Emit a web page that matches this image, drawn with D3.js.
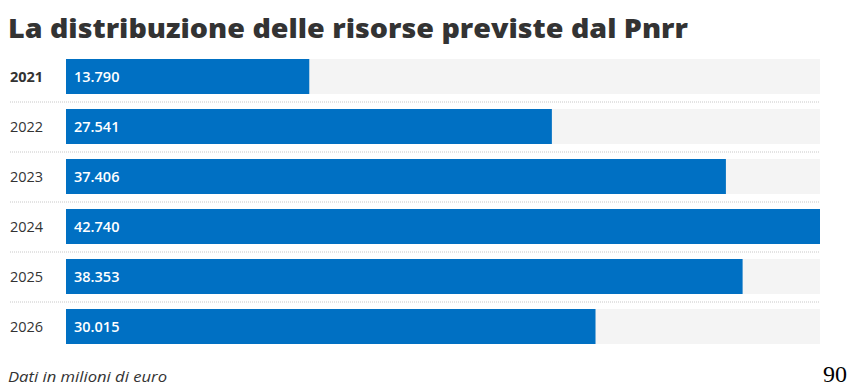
<!DOCTYPE html>
<html>
<head>
<meta charset="utf-8">
<title>La distribuzione delle risorse previste dal Pnrr</title>
<script src="https://d3js.org/d3.v7.min.js"></script>
<style>
  body { margin: 0; background: #fff; }
  svg { display: block; }
</style>
</head>
<body>
<svg id="chart" width="849" height="386"></svg>
<script>
  // data (milioni di euro)
  let years = ['2021', '2022', '2023', '2024', '2025', '2026'];
  let values = [13790, 27541, 37406, 42740, 38353, 30015];
  let labels = ['13.790', '27.541', '37.406', '42.740', '38.353', '30.015'];

  let svg = d3.select('#chart');

  let margin = { top: 59, left: 66, right: 29 };
  let plotWidth = 849 - margin.left - margin.right;

  let x = d3.scaleLinear()
    .domain([0, d3.max(values)])
    .range([0, plotWidth]);

  // 6 rows, 50px apart, bars 35px tall
  let y = d3.scaleBand()
    .domain(years)
    .range([0, 285])
    .paddingInner(0.3)
    .paddingOuter(0);

  // title
  svg.append('text')
    .attr('x', 8)
    .attr('y', 38)
    .attr('fill', '#333')
    .style('font-family', '"Open Sans", sans-serif')
    .style('font-weight', 800)
    .style('font-size', '27px')
    .attr('textLength', 680)
    .attr('lengthAdjust', 'spacingAndGlyphs')
    .text('La distribuzione delle risorse previste dal Pnrr');

  let plot = svg.append('g')
    .attr('transform', 'translate(' + margin.left + ',' + margin.top + ')');

  let rows = plot.selectAll('g.row')
    .data(years)
    .enter().append('g')
    .attr('class', 'row')
    .attr('transform', d => 'translate(0,' + y(d) + ')');

  // grey track
  rows.append('rect')
    .attr('width', x(d3.max(values)))
    .attr('height', y.bandwidth())
    .attr('fill', '#f4f4f4');

  // blue bars
  rows.append('rect')
    .attr('width', (d, i) => x(values[i]))
    .attr('height', y.bandwidth())
    .attr('fill', '#0070c3');

  // value labels
  rows.append('text')
    .attr('x', 8)
    .attr('y', y.bandwidth() / 2)
    .attr('dy', '0.35em')
    .attr('fill', '#fff')
    .style('font-family', '"Open Sans", sans-serif')
    .style('font-weight', 600)
    .style('font-size', '14.5px')
    .text((d, i) => labels[i]);

  // year labels
  rows.append('text')
    .attr('x', 10 - margin.left)
    .attr('y', y.bandwidth() / 2)
    .attr('dy', '0.35em')
    .attr('fill', '#333')
    .style('font-family', '"Open Sans", sans-serif')
    .style('font-weight', (d, i) => i === 0 ? 700 : 500)
    .style('font-size', '14.5px')
    .text(d => d);

  // dotted separators between rows
  let step = y.step();
  plot.selectAll('line.sep')
    .data(years.slice(1))
    .enter().append('line')
    .attr('class', 'sep')
    .attr('x1', 10 - margin.left)
    .attr('x2', x(d3.max(values)))
    .attr('y1', d => y(d) - (step - y.bandwidth()) / 2 + 0.5)
    .attr('y2', d => y(d) - (step - y.bandwidth()) / 2 + 0.5)
    .attr('stroke', '#c8c8c8')
    .attr('stroke-width', 1)
    .attr('stroke-dasharray', '1,1');

  // footnote
  svg.append('text')
    .attr('x', 8)
    .attr('y', 382)
    .attr('fill', '#333')
    .style('font-family', '"Open Sans", sans-serif')
    .style('font-style', 'italic')
    .style('font-size', '14px')
    .attr('textLength', 159)
    .attr('lengthAdjust', 'spacingAndGlyphs')
    .text('Dati in milioni di euro');

  // page number
  svg.append('text')
    .attr('x', 847)
    .attr('y', 382)
    .attr('text-anchor', 'end')
    .attr('fill', '#000')
    .style('font-family', '"Liberation Serif", serif')
    .style('font-size', '23px')
    .attr('textLength', 24)
    .attr('lengthAdjust', 'spacingAndGlyphs')
    .text('90');
</script>
</body>
</html>
